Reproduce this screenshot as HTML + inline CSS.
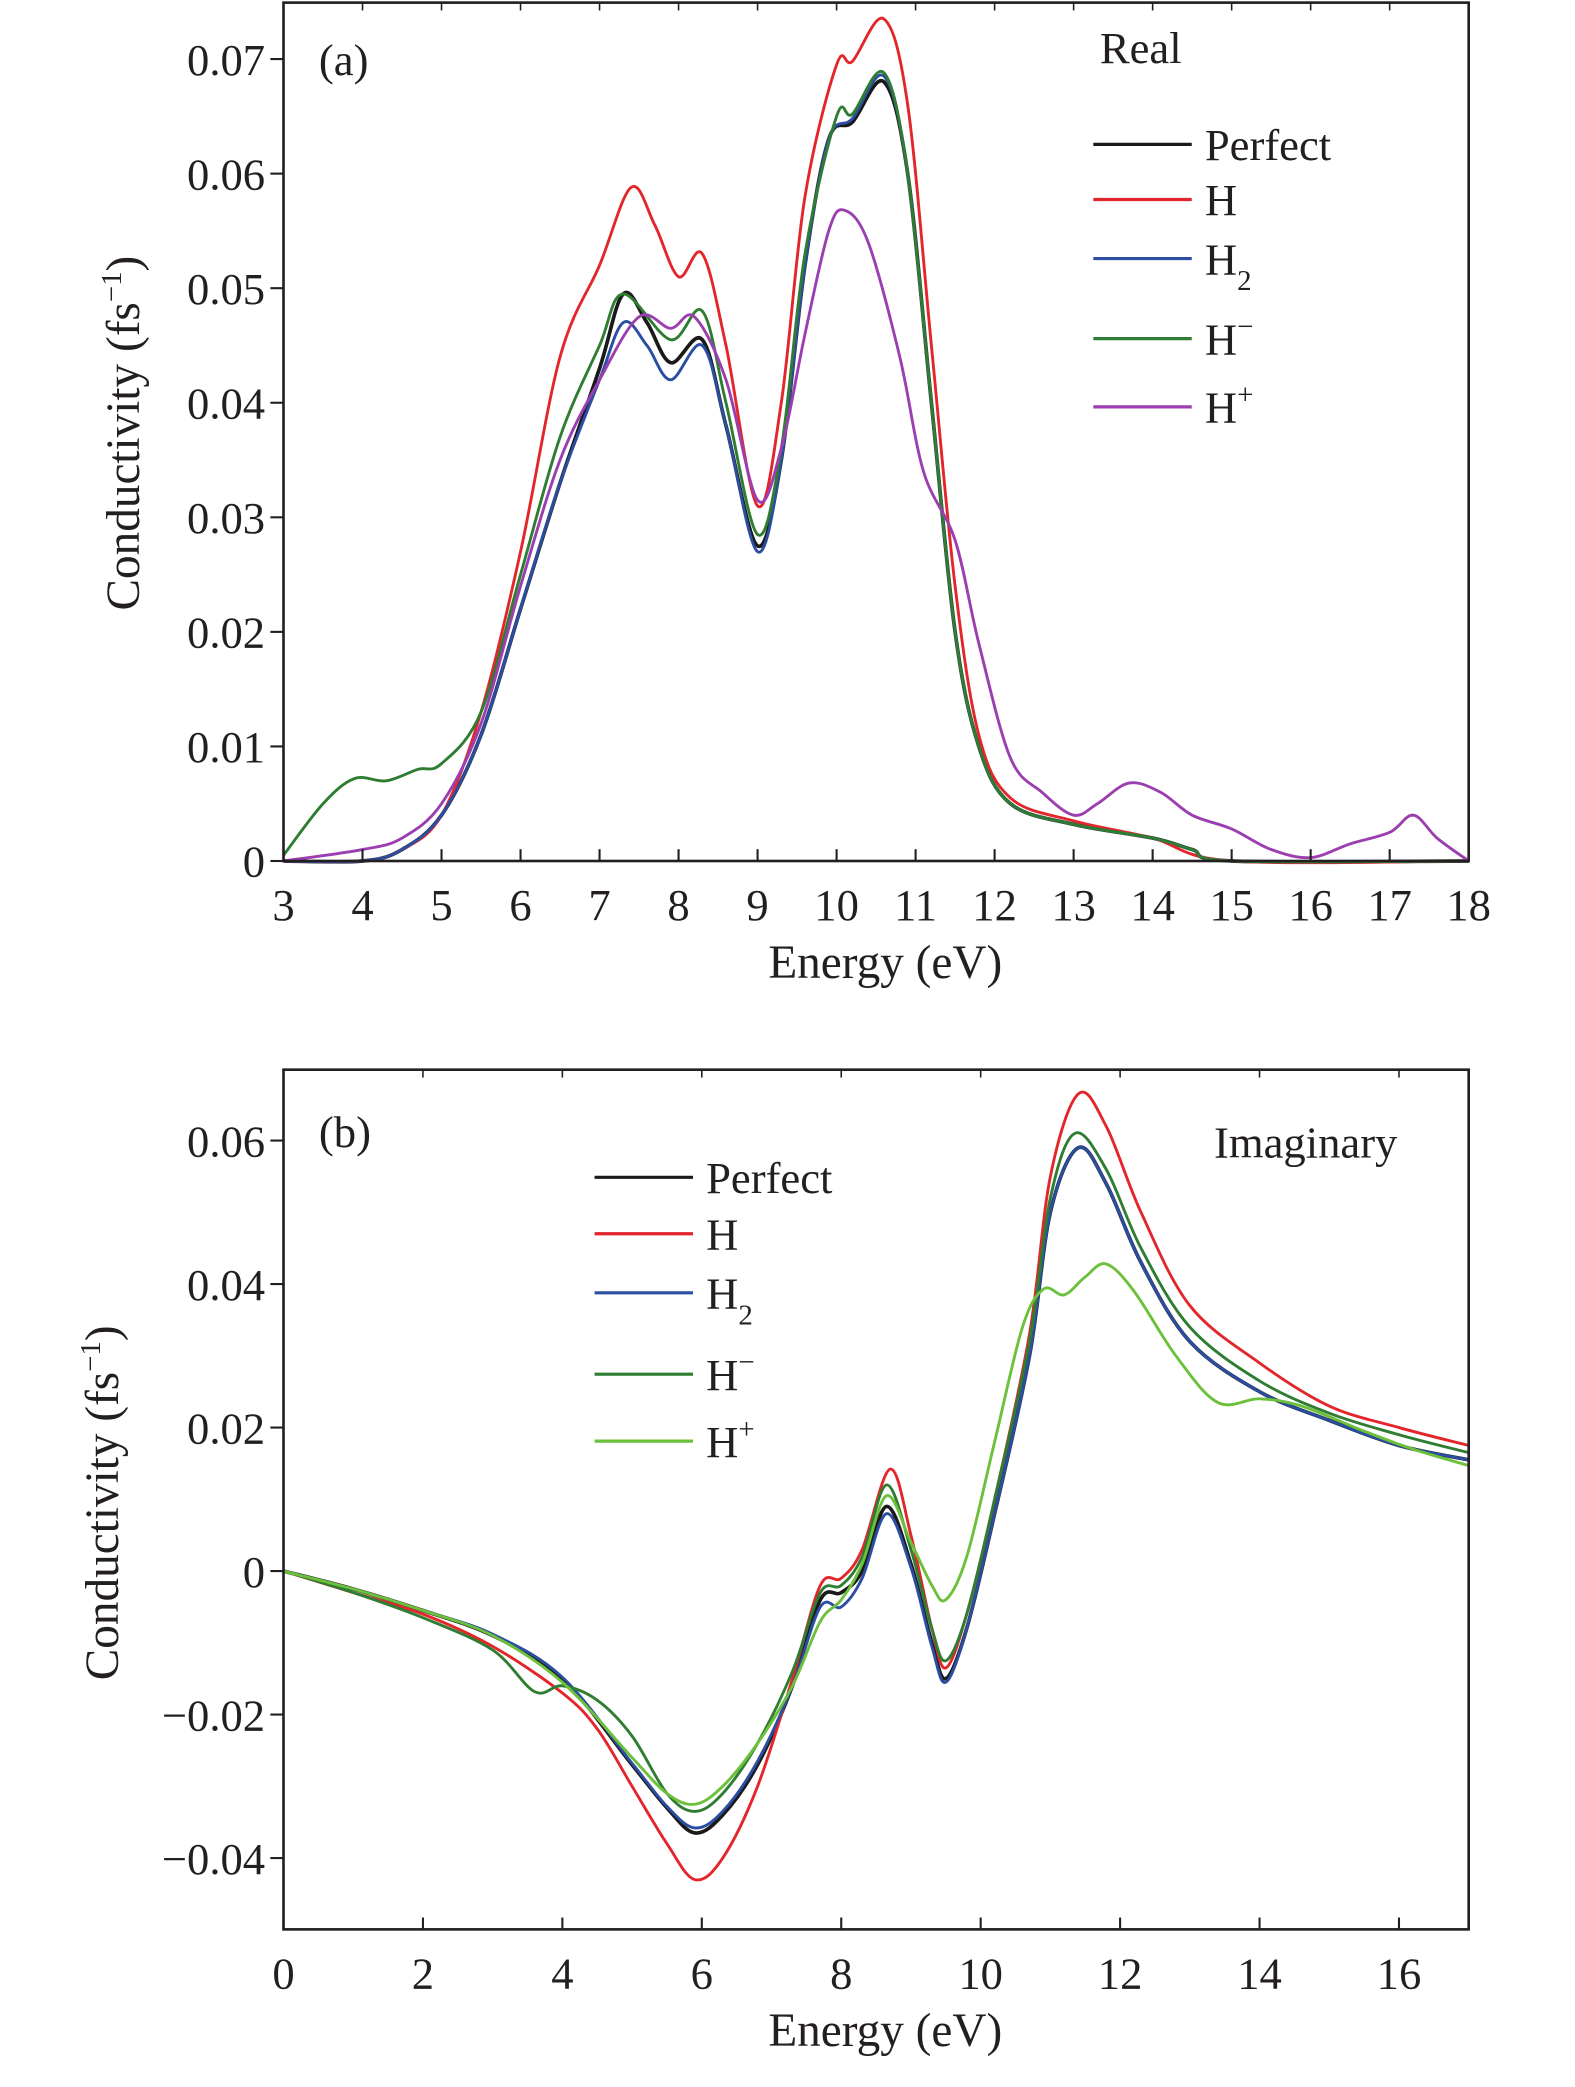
<!DOCTYPE html>
<html><head><meta charset="utf-8"><style>
html,body{margin:0;padding:0;background:#fff}
svg{display:block}
text{font-family:"Liberation Serif",serif;fill:#231f20}
</style></head><body>
<svg id="chart" width="1575" height="2087" viewBox="0 0 1200 1590.1" xmlns="http://www.w3.org/2000/svg"></svg>
<script>
// ---- Panel (a) data: Real conductivity ----
const aPerfectX=[3,4,4.5,5,5.5,6,6.5,7,7.3,7.6,7.9,8.3,8.6,9,9.3,9.6,9.9,10.2,10.6,10.9,11.2,11.5,11.8,12.2,13,14,14.5,15,18];
const aPerfectY=[0,0,0.001,0.004,0.011,0.022,0.033,0.043,0.0495,0.047,0.0435,0.0455,0.038,0.0275,0.035,0.052,0.063,0.0645,0.068,0.06,0.04,0.02,0.01,0.005,0.0032,0.002,0.001,0,0];
const aHX=[3,4,4.5,5,5.5,6,6.5,7,7.4,7.7,8,8.3,8.6,9,9.3,9.6,10,10.2,10.6,10.9,11.2,11.5,11.8,12.2,13,14,15,18];
const aHY=[0,0,0.001,0.004,0.013,0.027,0.044,0.052,0.0588,0.0555,0.051,0.053,0.045,0.031,0.04,0.058,0.0695,0.0698,0.0735,0.066,0.045,0.024,0.011,0.0055,0.0035,0.002,0,0];
const aH2X=[3,4,4.5,5,5.5,6,6.5,7,7.3,7.6,7.9,8.3,8.6,9,9.3,9.6,9.9,10.2,10.6,10.9,11.2,11.5,11.8,12.2,13,14,14.5,15,18];
const aH2Y=[0,0,0.001,0.004,0.011,0.022,0.033,0.042,0.047,0.045,0.042,0.045,0.038,0.027,0.035,0.052,0.063,0.0648,0.0685,0.06,0.04,0.02,0.01,0.005,0.0032,0.002,0.001,0,0];
const aHmX=[3,3.5,3.9,4.3,4.7,5,5.5,6,6.5,7,7.3,7.9,8.3,8.6,9,9.3,9.6,10,10.2,10.6,10.9,11.2,11.5,11.8,12.2,13,14,14.5,15,18];
const aHmY=[0.0005,0.005,0.0072,0.007,0.008,0.0085,0.013,0.025,0.037,0.045,0.0495,0.0455,0.048,0.04,0.0285,0.036,0.053,0.065,0.0652,0.0688,0.06,0.04,0.02,0.01,0.005,0.0032,0.002,0.001,0,0];
const aHpX=[3,4,4.5,5,5.5,6,6.5,7,7.5,7.9,8.2,8.6,9,9.3,9.6,9.9,10.1,10.4,10.8,11.1,11.5,11.8,12.2,12.6,13,13.3,13.7,14.1,14.5,15,15.5,16,16.5,17,17.3,17.6,18];
const aHpY=[0,0.001,0.002,0.005,0.012,0.024,0.035,0.042,0.0475,0.0465,0.0475,0.042,0.0315,0.036,0.046,0.055,0.0568,0.054,0.044,0.034,0.028,0.019,0.009,0.006,0.004,0.005,0.0068,0.006,0.004,0.0028,0.001,0.0003,0.0015,0.0025,0.004,0.002,0];
const aXTicks=[3,4,5,6,7,8,9,10,11,12,13,14,15,16,17,18];
const aYTicks=[0,0.01,0.02,0.03,0.04,0.05,0.06,0.07];
const aYLabels=["0","0.01","0.02","0.03","0.04","0.05","0.06","0.07"];
// ---- Panel (b) data: Imaginary conductivity ----
const bPerfectX=[0,1,2,3,4,5,5.5,5.9,6.3,6.8,7.3,7.7,8,8.3,8.65,9,9.3,9.5,9.8,10.2,10.7,11,11.4,11.8,12.3,13,14,15,16,17];
const bPerfectY=[0,-0.0025,-0.0055,-0.009,-0.015,-0.027,-0.033,-0.0365,-0.034,-0.027,-0.016,-0.004,-0.003,0,0.009,0.001,-0.01,-0.015,-0.008,0.008,0.03,0.05,0.059,0.054,0.043,0.032,0.025,0.021,0.0175,0.0155];
const bHX=[0,1,2,3,4,4.5,5,5.5,5.9,6.3,6.8,7.3,7.7,8,8.3,8.7,9,9.3,9.5,9.8,10.2,10.7,11,11.4,11.8,12.3,13,14,15,16,17];
const bHY=[0,-0.003,-0.006,-0.0105,-0.017,-0.022,-0.03,-0.038,-0.043,-0.04,-0.03,-0.015,-0.002,-0.001,0.003,0.0142,0.005,-0.008,-0.0135,-0.006,0.01,0.033,0.055,0.0665,0.062,0.05,0.037,0.029,0.023,0.02,0.0175];
const bH2X=[0,1,2,3,4,5,5.5,5.9,6.3,6.8,7.3,7.7,8,8.3,8.65,9,9.3,9.5,9.8,10.2,10.7,11,11.4,11.8,12.3,13,14,15,16,17];
const bH2Y=[0,-0.0025,-0.0055,-0.0088,-0.0148,-0.0268,-0.0328,-0.0358,-0.0335,-0.0265,-0.016,-0.005,-0.005,-0.001,0.008,0.0005,-0.0105,-0.0155,-0.008,0.008,0.03,0.05,0.059,0.054,0.043,0.032,0.025,0.021,0.0175,0.0155];
const bHmX=[0,1,2,3,3.6,4,4.5,5,5.5,5.9,6.3,6.8,7.3,7.7,8,8.3,8.65,9,9.3,9.5,9.8,10.2,10.7,11,11.35,11.8,12.3,13,14,15,16,17];
const bHmY=[0,-0.003,-0.0065,-0.011,-0.0168,-0.016,-0.018,-0.023,-0.031,-0.0335,-0.031,-0.024,-0.014,-0.003,-0.002,0.002,0.012,0.003,-0.008,-0.0125,-0.006,0.01,0.032,0.052,0.061,0.056,0.045,0.034,0.0265,0.022,0.019,0.0165];
const bHpX=[0,1,2,3,4,5,5.5,5.9,6.3,6.8,7.3,7.7,8,8.3,8.65,9,9.3,9.5,9.8,10.2,10.6,10.9,11.2,11.5,11.8,12.2,12.8,13.4,14,14.6,15.5,16.2,17];
const bHpY=[0,-0.0025,-0.0055,-0.009,-0.0155,-0.026,-0.031,-0.0325,-0.03,-0.024,-0.016,-0.007,-0.004,0.001,0.0105,0.004,-0.002,-0.004,0.002,0.018,0.034,0.0393,0.0385,0.041,0.0428,0.039,0.03,0.0235,0.024,0.023,0.0195,0.017,0.0147];
const bXTicks=[0,2,4,6,8,10,12,14,16];
const bYTicks=[-0.04,-0.02,0,0.02,0.04,0.06];
const bYLabels=["\u22120.04","\u22120.02","0","0.02","0.04","0.06"];

const NS="http://www.w3.org/2000/svg";
const svg=document.getElementById('chart');
function el(tag,attrs,parent){const e=document.createElementNS(NS,tag);for(const k in attrs)e.setAttribute(k,attrs[k]);(parent||svg).appendChild(e);return e;}
function smooth(pts){let d="M"+pts[0][0].toFixed(2)+","+pts[0][1].toFixed(2);
 for(let i=0;i<pts.length-1;i++){const p0=pts[i-1]||pts[i],p1=pts[i],p2=pts[i+1],p3=pts[i+2]||p2;
  const c1=[p1[0]+(p2[0]-p0[0])/6,p1[1]+(p2[1]-p0[1])/6],c2=[p2[0]-(p3[0]-p1[0])/6,p2[1]-(p3[1]-p1[1])/6];
  d+="C"+c1[0].toFixed(2)+","+c1[1].toFixed(2)+" "+c2[0].toFixed(2)+","+c2[1].toFixed(2)+" "+p2[0].toFixed(2)+","+p2[1].toFixed(2);}
 return d;}

function panel(cfg){
 const g=el('g',{});
 
 
 const sx=v=>cfg.L+(v-cfg.x0)/(cfg.x1-cfg.x0)*(cfg.R-cfg.L);
 const sy=v=>cfg.yA+(v-cfg.vA)/(cfg.vB-cfg.vA)*(cfg.yB-cfg.yA);
 cfg.series.forEach(s=>{
  const p=el('path',{d:smooth(s.x.map((x,i)=>[sx(x),sy(s.y[i])])),fill:'none',stroke:s.c,'stroke-width':s.w||2.2,'stroke-linejoin':'round'},g);
  
  
 });
 const fr=el('rect',{x:cfg.L,y:cfg.T,width:cfg.R-cfg.L,height:cfg.B-cfg.T,fill:'none',stroke:'#231f20','stroke-width':2},g);
 
 
 cfg.xt.forEach(v=>{
  el('line',{x1:sx(v),x2:sx(v),y1:cfg.B,y2:cfg.B-9,stroke:'#231f20','stroke-width':1.6},g);
  el('line',{x1:sx(v),x2:sx(v),y1:cfg.T,y2:cfg.T+6,stroke:'#231f20','stroke-width':1.2},g);
  const t=el('text',{x:sx(v),y:cfg.B+45,'text-anchor':'middle','font-size':34},g);t.textContent=String(v);
  
  
 });
 cfg.yt.forEach((v,i)=>{
  el('line',{x1:cfg.L-10,x2:cfg.L,y1:sy(v),y2:sy(v),stroke:'#231f20','stroke-width':1.6},g);
  const t=el('text',{x:cfg.L-14,y:sy(v)+12,'text-anchor':'end','font-size':34},g);t.textContent=cfg.yl[i];
  
  
 });
 const xt=el('text',{x:(cfg.L+cfg.R)/2+7,y:cfg.B+89,'text-anchor':'middle','font-size':36},g);xt.textContent='Energy (eV)';
 
 
 const yt=el('text',{x:0,y:0,'text-anchor':'middle','font-size':36,transform:`translate(${cfg.ytx},${cfg.yty}) rotate(-90)`},g);
 yt.innerHTML='Conductivity (fs<tspan dy="-14" font-size="22">\u22121</tspan><tspan dy="14">)</tspan>';
 
 
 const pl=el('text',{x:cfg.L+27,y:cfg.plY,'font-size':34},g);pl.textContent=cfg.pl;
 
 
 const ti=el('text',{x:cfg.tiX,y:cfg.tiY,'font-size':34},g);ti.textContent=cfg.ti;
 
 
 const labels=[['Perfect',''],['H',''],['H','2'],['H','\u2212'],['H','+']];
 cfg.series.forEach((s,i)=>{
  const lg=el('g',{},g);
  
  
  const y=cfg.legY[i];
  el('line',{x1:cfg.legX,x2:cfg.legX+75,y1:y,y2:y,stroke:s.c,'stroke-width':2.4},lg);
  const t=el('text',{x:cfg.legX+85,y:y+12,'font-size':34},lg);
  t.textContent=labels[i][0];
  if(labels[i][1]){const ts=el('tspan',{'font-size':22,dy:labels[i][1]==='2'?12:-14},t);ts.textContent=labels[i][1];}
 });
}
panel({name:'panel-a-real',L:216,R:1119,T:2,B:656,x0:3,x1:18,vA:0,yA:656,vB:0.07,yB:45,
 xt:aXTicks,yt:aYTicks,yl:aYLabels,ytx:106,yty:330,pl:'(a)',plY:57,ti:'Real',tiX:838,tiY:48,
 legX:833,legY:[110,152,197,258,310],
 series:[{id:'perfect',x:aPerfectX,y:aPerfectY,c:'#1a1a1a',w:2.8},{id:'h',x:aHX,y:aHY,c:'#e3262b'},{id:'h2',x:aH2X,y:aH2Y,c:'#2b4ea2'},{id:'h-minus',x:aHmX,y:aHmY,c:'#2e7d32'},{id:'h-plus',x:aHpX,y:aHpY,c:'#9b3fb0'}]});
panel({name:'panel-b-imaginary',L:216,R:1119,T:815,B:1470,x0:0,x1:17,vA:0,yA:1197,vB:0.06,yB:869,
 xt:bXTicks,yt:bYTicks,yl:bYLabels,ytx:90,yty:1145,pl:'(b)',plY:874,ti:'Imaginary',tiX:925,tiY:882,
 legX:453,legY:[897,940,985,1047,1098],
 series:[{id:'perfect',x:bPerfectX,y:bPerfectY,c:'#1a1a1a',w:2.8},{id:'h',x:bHX,y:bHY,c:'#e3262b'},{id:'h2',x:bH2X,y:bH2Y,c:'#2b4ea2'},{id:'h-minus',x:bHmX,y:bHmY,c:'#2e7d32'},{id:'h-plus',x:bHpX,y:bHpY,c:'#6cc03a'}]});
</script>
</body></html>
